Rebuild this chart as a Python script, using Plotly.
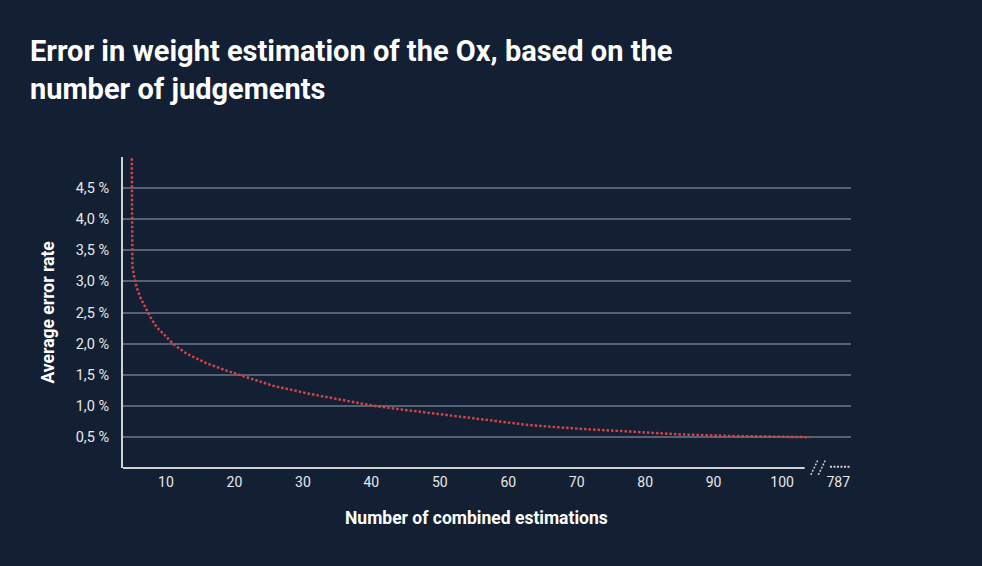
import plotly.graph_objects as go

# ---- data ----
combined = [5.0, 5.0, 5.1, 5.4, 5.7, 6.3, 7.1, 7.7, 8.6, 9.9, 11.1, 13.0, 16.0, 19.0, 22.0,
            25.7, 30.6, 35.4, 40.3, 45.2, 50.0, 56.0, 63.0, 70.5, 78.0, 85.0, 92.5, 100.0, 104.0]
error_rate = [4.98, 3.5, 3.24, 3.05, 2.91, 2.73, 2.55, 2.43, 2.27, 2.12, 1.99, 1.84, 1.68, 1.56, 1.45,
              1.32, 1.20, 1.10, 1.00, 0.93, 0.87, 0.785, 0.69, 0.63, 0.585, 0.54, 0.515, 0.495, 0.495]

x_tick_vals = [10, 20, 30, 40, 50, 60, 70, 80, 90, 100]
x_tick_text = ["10", "20", "30", "40", "50", "60", "70", "80", "90", "100"]
break_label = "787"
break_label_pos = 108.2

y_tick_vals = [0.5, 1.0, 1.5, 2.0, 2.5, 3.0, 3.5, 4.0, 4.5]
y_tick_text = ["0,5 %", "1,0 %", "1,5 %", "2,0 %", "2,5 %", "3,0 %", "3,5 %", "4,0 %", "4,5 %"]

title_text = "Error in weight estimation of the Ox, based on the<br>number of judgements"
x_title = "Number of combined estimations"
y_title = "Average error rate"

BG = "#131f33"
RED = "#d04545"
AXIS = "#d2d2d2"
GRID = "#556174"
FONT = "Roboto"

fig = go.Figure()
fig.add_trace(go.Scatter(
    x=combined, y=error_rate, mode="lines",
    line=dict(color=RED, width=2.5, dash="2.5px,2px"),
    hoverinfo="skip", showlegend=False,
))

fig.update_layout(
    width=982, height=566,
    paper_bgcolor=BG, plot_bgcolor=BG,
    margin=dict(l=123, r=131, t=157, b=98),
    font=dict(family=FONT, color="#e8e8e8", size=14),
    title=dict(text=title_text, x=30 / 982, xanchor="left", xref="container",
               y=1 - 61 / 566, yanchor="top", yref="container",
               font=dict(family=FONT, size=29, color="#ffffff", weight="bold")),
    xaxis=dict(range=[3.72, 110.07], tickvals=x_tick_vals + [break_label_pos],
               ticktext=x_tick_text + [break_label],
               showgrid=False, zeroline=False, showline=False, ticks="",
               ticklabelstandoff=4,
               tickfont=dict(size=14, color="#e8e8e8")),
    yaxis=dict(range=[0, 5.0], tickvals=y_tick_vals, ticktext=y_tick_text,
               showgrid=True, gridcolor=GRID, gridwidth=1.5, zeroline=False,
               showline=True, linecolor=AXIS, linewidth=2, ticks="",
               ticklabelstandoff=9,
               tickfont=dict(size=14.5, color="#e8e8e8")),
    showlegend=False,
)

# x-axis line (stops before the axis break)
fig.add_shape(type="line", xref="x", yref="paper", x0=3.72, x1=103.3, y0=0, y1=0,
              line=dict(color=AXIS, width=2))
# axis break marks
for x0 in (104.2, 105.3):
    fig.add_shape(type="line", xref="x", yref="paper", x0=x0, x1=x0 + 1.0, y0=-0.022, y1=0.024,
                  line=dict(color=AXIS, width=1.5, dash="2px,1.5px"))
fig.add_shape(type="line", xref="x", yref="paper", x0=107.0, x1=110.07, y0=0.004, y1=0.004,
              line=dict(color=AXIS, width=2, dash="2px,1.5px"))

fig.add_annotation(text=x_title, xref="paper", yref="paper", x=(476 - 123) / 728, y=-0.161,
                   showarrow=False, xanchor="center", yanchor="middle",
                   font=dict(family=FONT, size=17.5, color="#ffffff", weight="bold"))
fig.add_annotation(text=y_title, xref="paper", yref="paper", x=(47 - 123) / 728, y=0.5,
                   showarrow=False, textangle=-90, xanchor="center", yanchor="middle",
                   font=dict(family=FONT, size=17.5, color="#ffffff", weight="bold"))

fig.write_html("out.html")
